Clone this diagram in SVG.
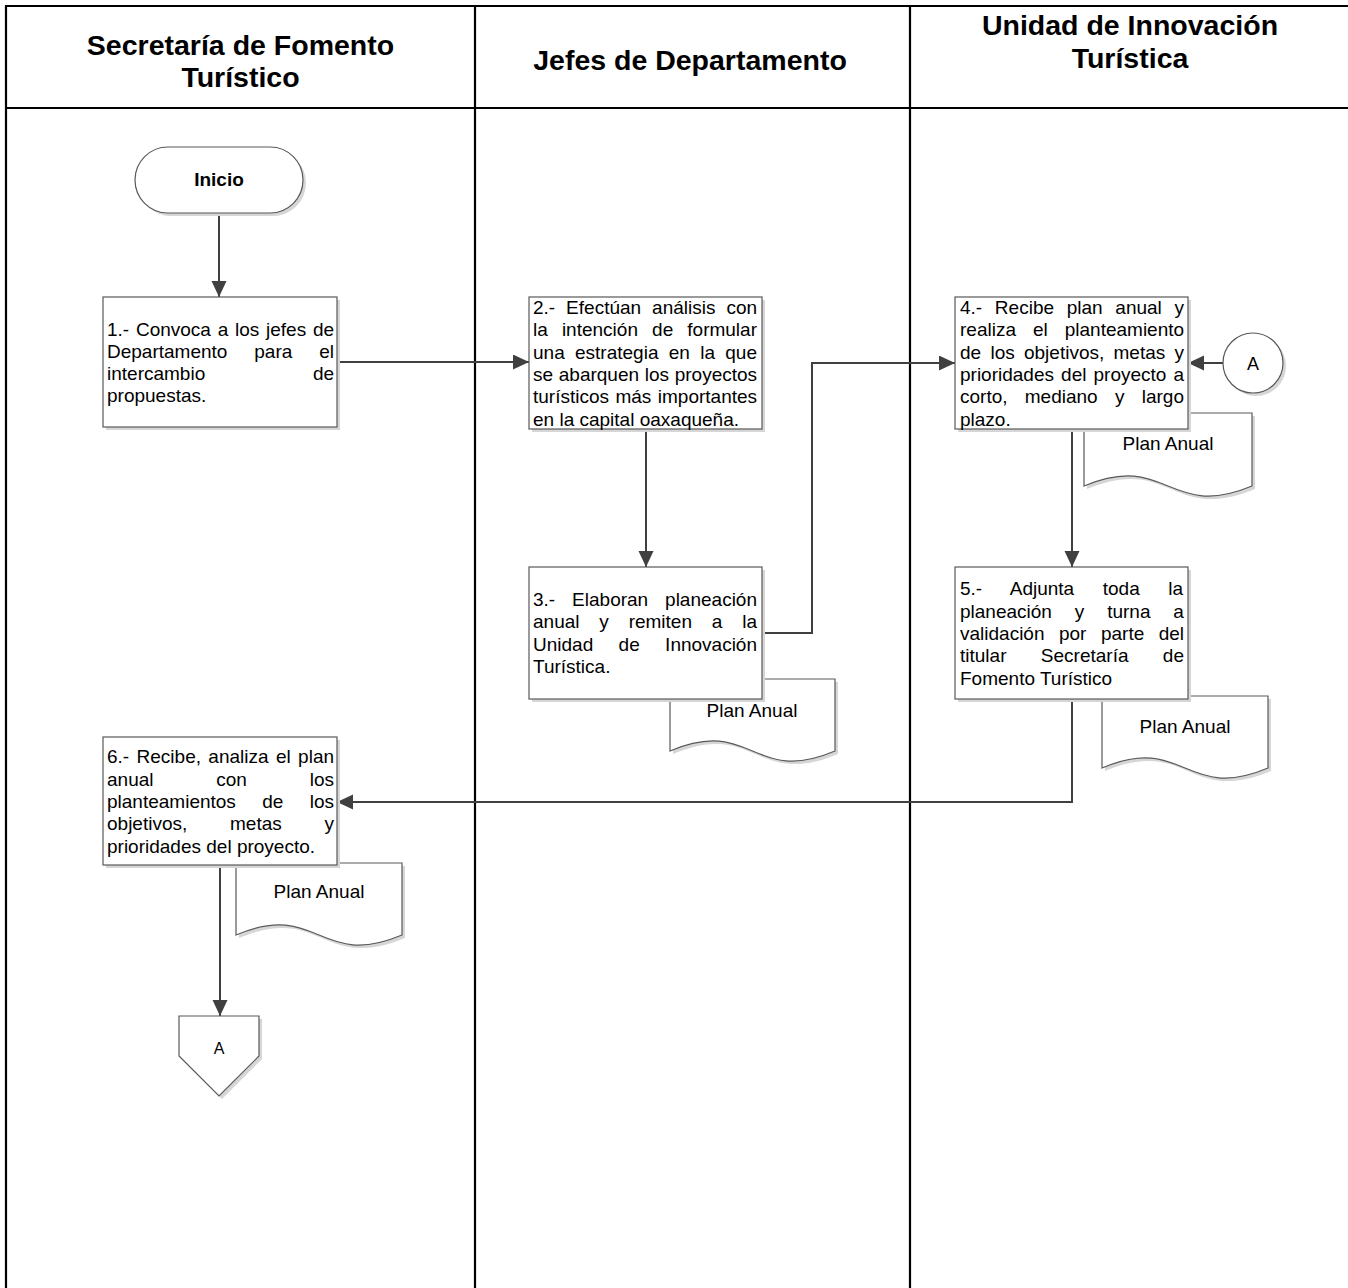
<svg xmlns="http://www.w3.org/2000/svg" width="1348" height="1288" viewBox="0 0 1348 1288">
<style>
.lane{stroke:#000;stroke-width:2.2;fill:none}
.hdr{font-family:"Liberation Sans",Arial,sans-serif;font-weight:bold;font-size:28.5px;fill:#000;text-anchor:middle}
.box{fill:#fff;stroke:#595959;stroke-width:1.2}
.shadow{fill:#d6d6d6}
.t{font-family:"Liberation Sans",Arial,sans-serif;font-size:19px;fill:#000}
.c{text-anchor:middle}
.b{font-weight:bold}
.conn{stroke:#404040;stroke-width:2;fill:none;marker-end:url(#arr)}
</style>
<defs>
<marker id="arr" markerUnits="userSpaceOnUse" markerWidth="16" markerHeight="16" refX="16" refY="7.5" orient="auto">
<path d="M0,0 L16,7.5 L0,15 z" fill="#404040"/>
</marker>
</defs>
<rect width="1348" height="1288" fill="#fff"/>
<g id="lanes">
<line class="lane" x1="6" y1="6" x2="1348" y2="6"/>
<line class="lane" x1="6" y1="108" x2="1348" y2="108"/>
<line class="lane" x1="6" y1="5" x2="6" y2="1288"/>
<line class="lane" x1="475" y1="6" x2="475" y2="1288"/>
<line class="lane" x1="910" y1="6" x2="910" y2="1288"/>
<text class="hdr" x="240.5" y="55">Secretaría de Fomento</text>
<text class="hdr" x="240.5" y="87">Turístico</text>
<text class="hdr" x="690" y="70">Jefes de Departamento</text>
<text class="hdr" x="1130" y="35">Unidad de Innovación</text>
<text class="hdr" x="1130" y="68">Turística</text>
</g>
<g id="docs">
<g id="doc3">
<path class="shadow" transform="translate(3,3)" d="M670,679 H835 V751 C752.5,786 752.5,716 670,751 Z"/>
<path class="box" d="M670,679 H835 V751 C752.5,786 752.5,716 670,751 Z"/>
<text class="t c" x="752" y="717">Plan Anual</text>
</g>
<g id="doc4">
<path class="shadow" transform="translate(3,3)" d="M1084,413 H1252 V486 C1168,521 1168,451 1084,486 Z"/>
<path class="box" d="M1084,413 H1252 V486 C1168,521 1168,451 1084,486 Z"/>
<text class="t c" x="1168" y="450">Plan Anual</text>
</g>
<g id="doc5">
<path class="shadow" transform="translate(3,3)" d="M1102,696 H1268 V768 C1185,803 1185,733 1102,768 Z"/>
<path class="box" d="M1102,696 H1268 V768 C1185,803 1185,733 1102,768 Z"/>
<text class="t c" x="1185" y="733">Plan Anual</text>
</g>
<g id="doc6">
<path class="shadow" transform="translate(3,3)" d="M236,863 H402 V935 C319,970 319,900 236,935 Z"/>
<path class="box" d="M236,863 H402 V935 C319,970 319,900 236,935 Z"/>
<text class="t c" x="319" y="898">Plan Anual</text>
</g>
</g>
<g id="connectors">
<line class="conn" x1="219" y1="213" x2="219" y2="297"/>
<line class="conn" x1="337" y1="362" x2="529" y2="362"/>
<line class="conn" x1="646" y1="429" x2="646" y2="567"/>
<polyline class="conn" points="762,633 812,633 812,363 955,363"/>
<line class="conn" x1="1223" y1="363" x2="1188" y2="363"/>
<line class="conn" x1="1072" y1="429" x2="1072" y2="567"/>
<polyline class="conn" points="1072,699 1072,802 337,802"/>
<line class="conn" x1="220" y1="865" x2="220" y2="1016"/>
</g>
<g id="inicio">
<rect class="shadow" x="138" y="150" width="168" height="66" rx="33"/>
<rect class="box" x="135" y="147" width="168" height="66" rx="33"/>
<text class="t c b" x="219" y="186">Inicio</text>
</g>
<g id="box1">
<rect class="shadow" x="106" y="300" width="234" height="130"/>
<rect class="box" x="103" y="297" width="234" height="130"/>
<text class="t" x="107" y="336" word-spacing="1.47">1.- Convoca a los jefes de</text>
<text class="t" x="107" y="358" word-spacing="21.6">Departamento para el</text>
<text class="t" x="107" y="380" word-spacing="102.4">intercambio de</text>
<text class="t" x="107" y="402">propuestas.</text>
</g>
<g id="box2">
<rect class="shadow" x="532" y="300" width="233" height="132"/>
<rect class="box" x="529" y="297" width="233" height="132"/>
<text class="t" x="533" y="314" word-spacing="5.67">2.- Efectúan análisis con</text>
<text class="t" x="533" y="336.3" word-spacing="8.83">la intención de formular</text>
<text class="t" x="533" y="358.6" word-spacing="5.03">una estrategia en la que</text>
<text class="t" x="533" y="380.9" word-spacing="0.4">se abarquen los proyectos</text>
<text class="t" x="533" y="403.2" word-spacing="1.15">turísticos más importantes</text>
<text class="t" x="533" y="425.5">en la capital oaxaqueña.</text>
</g>
<g id="box3">
<rect class="shadow" x="532" y="570" width="233" height="132"/>
<rect class="box" x="529" y="567" width="233" height="132"/>
<text class="t" x="533" y="606" word-spacing="11.65">3.- Elaboran planeación</text>
<text class="t" x="533" y="628.3" word-spacing="14.55">anual y remiten a la</text>
<text class="t" x="533" y="650.6" word-spacing="20.1">Unidad de Innovación</text>
<text class="t" x="533" y="672.9">Turística.</text>
</g>
<g id="box4">
<rect class="shadow" x="958" y="300" width="233" height="132"/>
<rect class="box" x="955" y="297" width="233" height="132"/>
<text class="t" x="960" y="314" word-spacing="7.42">4.- Recibe plan anual y</text>
<text class="t" x="960" y="336.3" word-spacing="11.7">realiza el planteamiento</text>
<text class="t" x="960" y="358.6" word-spacing="4">de los objetivos, metas y</text>
<text class="t" x="960" y="380.9" word-spacing="1.8">prioridades del proyecto a</text>
<text class="t" x="960" y="403.2" word-spacing="12">corto, mediano y largo</text>
<text class="t" x="960" y="425.5">plazo.</text>
</g>
<g id="box5">
<rect class="shadow" x="958" y="570" width="233" height="132"/>
<rect class="box" x="955" y="567" width="233" height="132"/>
<text class="t" x="960" y="595.4" word-spacing="23.3">5.- Adjunta toda la</text>
<text class="t" x="960" y="617.7" word-spacing="17.6">planeación y turna a</text>
<text class="t" x="960" y="640" word-spacing="9.2">validación por parte del</text>
<text class="t" x="960" y="662.3" word-spacing="29.1">titular Secretaría de</text>
<text class="t" x="960" y="684.6">Fomento Turístico</text>
</g>
<g id="box6">
<rect class="shadow" x="106" y="740" width="234" height="128"/>
<rect class="box" x="103" y="737" width="234" height="128"/>
<text class="t" x="107" y="763.4" word-spacing="2.1">6.- Recibe, analiza el plan</text>
<text class="t" x="107" y="785.7" word-spacing="57.5">anual con los</text>
<text class="t" x="107" y="808" word-spacing="21.1">planteamientos de los</text>
<text class="t" x="107" y="830.3" word-spacing="37.5">objetivos, metas y</text>
<text class="t" x="107" y="852.6">prioridades del proyecto.</text>
</g>
<g id="circleA">
<circle class="shadow" cx="1256" cy="366" r="30"/>
<circle class="box" cx="1253" cy="363" r="30"/>
<text class="t c" x="1253" y="370" style="font-size:18px">A</text>
</g>
<g id="offpageA">
<polygon class="shadow" transform="translate(3,3)" points="179,1016 259,1016 259,1056 219,1096 179,1056"/>
<polygon class="box" points="179,1016 259,1016 259,1056 219,1096 179,1056"/>
<text class="t c" x="219" y="1054" style="font-size:16px">A</text>
</g>
</svg>
